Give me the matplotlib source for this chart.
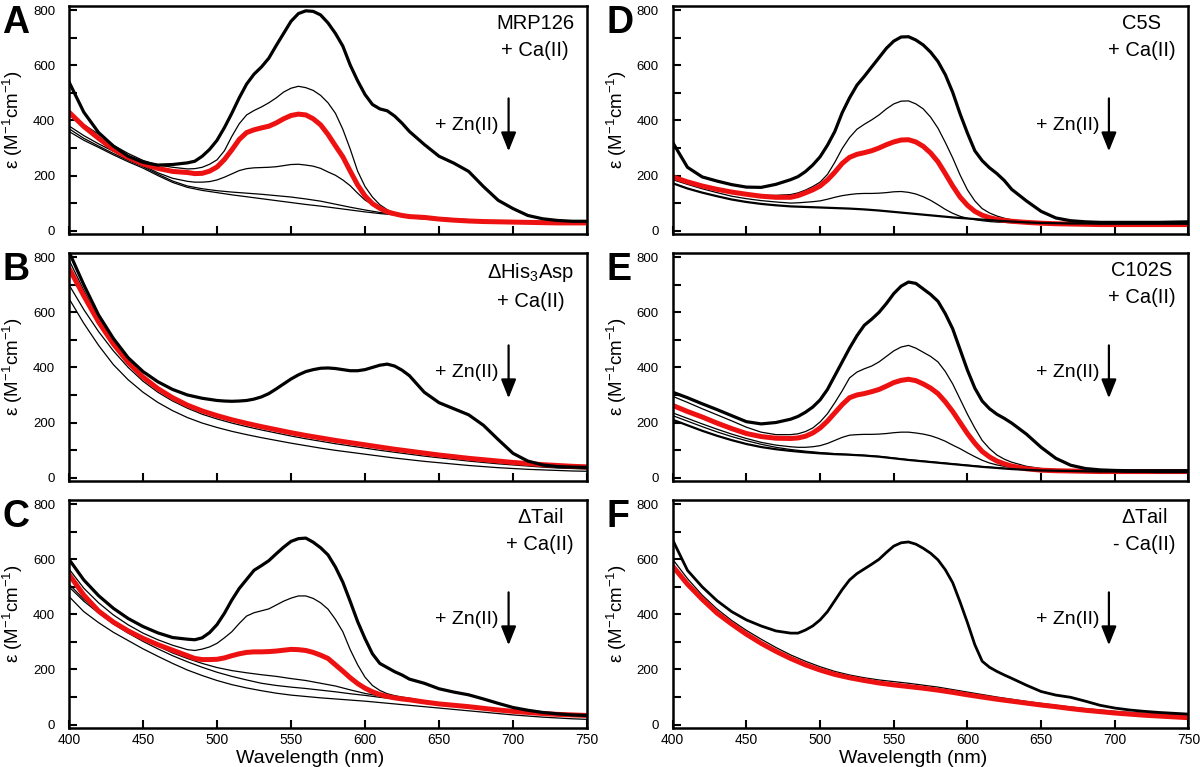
import numpy as np
import matplotlib
matplotlib.use("Agg")
import matplotlib.pyplot as plt
from matplotlib.ticker import MultipleLocator

plt.rcParams['font.family'] = ['Liberation Sans', 'DejaVu Sans']
plt.rcParams['mathtext.fontset'] = 'custom'
plt.rcParams['mathtext.rm'] = 'Liberation Sans'
plt.rcParams['mathtext.it'] = 'Liberation Sans:italic'
plt.rcParams['mathtext.bf'] = 'Liberation Sans:bold'

# ---------------- data ----------------
# coarse grid (10 nm) for smooth featureless spectra
wavelength = list(range(400, 751, 10))
# finer grid (5 nm across the absorption band) for the peaked spectra
wavelength_fine = list(range(400, 480, 10)) + list(range(480, 631, 5)) + list(range(640, 751, 10))

# Panel A: MRP126 + Ca(II)
A_0 = [540,430,356,307,270,248,238,240,
       246,252,270,295,328,374,426,482,532,568,594,626,672,716,760,788,798,796,783,754,716,670,601,544,494,458,442,435,416,390,360,
       313,270,245,215,160,110,80,55,43,37,34,34]
A_1 = [420,385,350,310,280,255,238,230,
       224,225,230,241,257,290,342,388,420,436,449,464,482,503,517,524,519,509,491,464,426,368,296,216,160,122,94,76,63,53,47,
       42,38,35,33,32,31,30,28,27,26,26,25]
A_red = [430,378,335,295,265,242,226,215,
         211,207,208,216,231,258,293,331,356,366,373,379,391,406,418,423,420,406,384,349,308,268,216,166,126,98,81,68,61,55,51,
         48,42,38,35,33,32,31,30,29,28,28,28]
A_3 = [380,345,315,288,262,237,210,190,
       179,176,176,178,184,194,206,218,225,228,229,230,232,236,240,241,238,234,226,213,201,184,163,136,111,94,81,71,64,59,55,
       52,46,42,38,35,33,31,29,28,27,26,25]
A_4 = [370,335,307,280,255,232,205,180,162,152,145,140,136,132,127,122,115,107,96,85,75,66,59,54,50,46,43,40,37,35,33,31,29,27,26,25]
A_5 = [360,328,302,275,250,227,200,175,157,146,138,130,123,116,109,102,95,89,82,75,68,62,57,52,48,45,41,38,36,34,32,30,28,27,26,25]

# Panel B: dHis3Asp + Ca(II)
B_0 = [820,700,590,505,435,385,348,320,
       300,294,288,284,280,278,277,278,280,285,293,305,322,340,358,373,385,392,397,398,396,392,388,388,392,400,408,412,405,390,370,
       310,272,250,228,190,138,88,60,46,40,38,37]
B_1 = [790,680,575,490,420,365,325,292,265,245,228,213,200,188,176,165,155,146,137,128,120,112,104,96,89,82,76,70,64,59,54,50,46,43,40,38]
B_red = [760,660,565,485,418,365,323,290,263,242,225,210,197,185,174,163,153,144,135,127,119,111,103,96,89,82,76,70,65,60,55,51,47,44,41,39]
B_3 = [700,610,530,460,400,350,310,278,252,230,213,198,185,173,162,151,141,132,123,115,107,99,92,85,78,72,66,60,55,50,46,42,38,35,33,31]
B_4 = [650,560,480,410,355,310,273,243,218,198,182,168,156,145,135,125,116,107,99,92,85,78,71,65,59,54,49,44,40,36,33,30,28,26,24,23]

# Panel C: dTail + Ca(II)
C_0 = [600,525,468,422,385,356,333,316,
       310,308,315,334,363,404,452,494,527,560,577,595,620,644,665,675,677,662,642,616,572,517,447,374,312,257,222,207,192,180,165,
       150,130,118,108,93,77,62,52,44,39,35,33]
C_1 = [565,495,442,398,362,332,308,288,
       272,269,274,282,295,315,337,367,394,406,413,420,434,448,459,467,467,458,442,419,382,337,272,217,172,142,124,112,105,100,96,
       85,78,71,65,59,54,49,45,41,38,35,33]
C_red = [545,470,412,372,340,313,290,270,
         250,240,236,236,237,242,250,257,262,264,264,265,267,270,273,272,269,262,252,240,217,194,170,149,132,119,109,102,97,93,90,
         82,75,70,65,59,53,48,44,40,37,35,33]
C_3 = [510,455,412,375,345,312,285,260,240,222,207,196,188,181,175,167,160,150,140,126,113,104,96,90,84,79,73,67,61,55,49,44,40,36,33,30]
C_4 = [500,448,405,365,332,302,275,250,228,208,190,175,162,150,142,136,131,125,119,112,106,99,93,87,81,75,69,63,57,52,46,41,37,34,31,29]
C_5 = [465,410,370,335,305,275,248,222,198,178,160,145,133,123,114,107,102,97,93,89,85,80,75,70,65,60,55,50,45,40,35,31,27,24,21,19]

# Panel D: C5S + Ca(II)
D_0 = [320,230,195,180,167,158,157,168,
       185,196,214,238,268,310,360,428,482,528,560,594,628,662,688,703,704,692,674,648,614,566,502,424,354,290,254,228,207,182,150,
       108,70,46,36,32,30,30,30,30,30,31,32]
D_1 = [200,180,165,152,141,133,128,128,
       131,137,147,160,176,204,248,298,338,368,386,402,420,442,460,470,471,460,442,412,372,320,264,202,148,108,80,64,53,45,39,
       33,30,28,27,26,25,25,25,25,25,25,25]
D_red = [195,177,162,150,140,132,125,121,
         121,127,137,148,162,184,212,244,266,277,283,290,300,312,322,329,330,322,306,282,250,207,162,122,92,70,56,47,41,37,34,
         30,27,25,24,23,22,22,22,22,22,22,22]
D_3 = [185,168,152,138,125,116,109,104,
       100,101,103,105,108,114,121,127,131,134,135,135,136,138,141,142,139,133,123,110,94,77,63,52,45,40,36,33,31,30,29,
       28,27,26,26,25,25,25,25,25,25,25,25]
D_4 = [172,153,138,125,113,104,97,92,88,86,84,82,80,77,73,68,63,58,53,48,44,40,36,33,30,28,27,26,26,25,25,25,25,25,25,25]

# Panel E: C102S + Ca(II)
E_0 = [310,290,268,247,225,203,195,200,
       212,222,237,256,282,320,370,420,470,515,553,575,600,632,668,695,710,705,685,665,640,595,540,465,390,325,278,250,230,215,198,
       158,110,70,45,33,28,26,25,25,25,25,25]
E_1 = [295,273,250,228,206,183,165,156,
       156,159,167,180,202,232,272,315,362,383,395,405,420,440,460,474,480,470,455,440,420,385,340,285,230,180,135,105,82,67,56,
       41,33,29,27,26,25,25,24,24,23,23,22]
E_red = [262,240,220,198,178,160,149,143,
         142,144,150,162,180,205,235,265,290,300,305,312,320,332,345,353,357,352,340,325,305,275,240,200,160,125,95,75,60,50,42,
         32,27,25,24,23,22,22,22,22,22,22,22]
E_3 = [235,215,195,176,158,142,128,118,
       112,110,110,112,116,124,135,146,154,156,157,157,158,160,163,165,165,162,158,152,143,132,118,105,90,76,63,53,46,41,37,
       32,29,27,26,25,25,24,24,23,23,22,22]
E_4 = [225,205,185,166,149,134,121,110,102,96,91,87,84,81,77,71,65,60,55,50,45,40,36,32,29,27,25,24,23,22,22,21,21,20,20,20]
E_5 = [210,190,170,152,136,122,111,103,97,92,88,85,83,80,76,70,64,59,54,49,44,39,35,31,28,26,25,24,23,22,22,21,21,20,20,20]

# Panel F: dTail - Ca(II)
F_0 = [670,560,500,450,410,380,358,340,
       332,332,343,358,380,410,450,490,525,548,565,582,600,625,648,660,663,655,640,622,598,562,515,445,370,290,230,208,193,180,168,
       143,120,107,99,85,70,60,53,48,44,41,38]
F_1 = [600,530,470,420,378,342,310,280,253,230,210,193,180,170,162,156,150,143,136,127,118,109,100,92,84,77,70,64,58,53,48,44,41,38,36,35]
F_red = [575,510,455,405,365,328,295,266,240,217,198,182,170,160,151,144,138,132,125,117,108,100,92,85,78,71,65,58,52,47,42,38,34,31,28,25]

panel_letters = ['A', 'B', 'C', 'D', 'E', 'F']
panel_titles = ['MRP126\n+ Ca(II)', r'$\Delta$His$_{3}$Asp' + '\n+ Ca(II)', r'$\Delta$Tail' + '\n+ Ca(II)',
                'C5S\n+ Ca(II)', 'C102S\n+ Ca(II)', r'$\Delta$Tail' + '\n- Ca(II)']
zn_label = '+ Zn(II)'
y_label = 'ε (M$^{-1}$cm$^{-1}$)'
x_label = 'Wavelength (nm)'
y_ticks = [0, 200, 400, 600, 800]
x_ticks = [400, 450, 500, 550, 600, 650, 700, 750]

# each panel: thick black (first = no Zn), thin black, red; values on (grid) given
F, C = 'fine', 'coarse'
panels = [
    dict(thick=[(A_0, F)], thin=[(A_1, F), (A_3, F), (A_4, C), (A_5, C)], red=(A_red, F)),
    dict(thick=[(B_0, F)], thin=[(B_1, C), (B_3, C), (B_4, C)], red=(B_red, C)),
    dict(thick=[(C_0, F)], thin=[(C_1, F), (C_3, C), (C_4, C), (C_5, C)], red=(C_red, F)),
    dict(thick=[(D_0, F), (D_4, C)], thin=[(D_1, F), (D_3, F)], red=(D_red, F)),
    dict(thick=[(E_0, F), (E_5, C)], thin=[(E_1, F), (E_3, F), (E_4, C)], red=(E_red, F)),
    dict(thick=[(F_0, F)], thin=[(F_1, C)], red=(F_red, C)),
]
grids = {F: np.array(wavelength_fine), C: np.array(wavelength)}

# ---------------- figure ----------------
fig = plt.figure(figsize=(12, 7.67), dpi=100)
lefts = [0.0575, 0.5606]
widths = [0.4317, 0.4298]
bottoms = [0.695, 0.373, 0.051]
H = 0.297
arrow_x = [697, 696]

for i, p in enumerate(panels):
    col, row = divmod(i, 3)
    ax = fig.add_axes([lefts[col], bottoms[row], widths[col], H])
    for y, g in p['thin']:
        ax.plot(grids[g], y, color='black', lw=0.9, solid_joinstyle='round')
    y, g = p['red']
    ax.plot(grids[g], y, color='#ee1111', lw=3.6, solid_joinstyle='round', solid_capstyle='round')
    for k, (y, g) in enumerate(p['thick']):
        ax.plot(grids[g], y, color='black', lw=(2.0 if i == 5 else 2.3) if k == 0 else 1.6,
                solid_joinstyle='round')
    ax.set_xlim(400, 750)
    ax.set_ylim(-12, 815)
    ax.set_yticks(y_ticks)
    ax.yaxis.set_minor_locator(MultipleLocator(100))
    ax.set_xticks(x_ticks)
    ax.tick_params(which='both', direction='in', length=6, width=1.5,
                   top=False, right=False)
    ax.tick_params(axis='y', which='both', labelsize=9.5, pad=10)
    ax.tick_params(axis='x', which='both', labelsize=10, pad=4)
    for s in ax.spines.values():
        s.set_linewidth(1.8)
    if row == 2:
        ax.set_xlabel(x_label, fontsize=14, va='baseline')
        ax.xaxis.set_label_coords(0.466, -0.152)
    else:
        ax.set_xticklabels([])
    ax.set_ylabel(y_label, fontsize=13.5)
    ax.yaxis.set_label_coords(-0.085, 0.5)
    ax.text(0.975, 0.965, panel_titles[i], transform=ax.transAxes, ha='right', va='top',
            multialignment='center', fontsize=14.5, linespacing=1.55)
    xa = arrow_x[col]
    ax.text(xa - 6.5, 382, zn_label, ha='right', va='center', fontsize=14)
    ax.annotate('', xy=(xa, 288), xytext=(xa, 480),
                arrowprops=dict(arrowstyle='-|>,head_length=0.95,head_width=0.38',
                                lw=1.6, color='black', mutation_scale=12, shrinkA=0, shrinkB=0))
    fig.text(lefts[col] - 0.0555, bottoms[row] + H + 0.002, panel_letters[i], ha='left', va='top',
             fontsize=27, fontweight='bold')

fig.savefig('out.png', dpi=100)
